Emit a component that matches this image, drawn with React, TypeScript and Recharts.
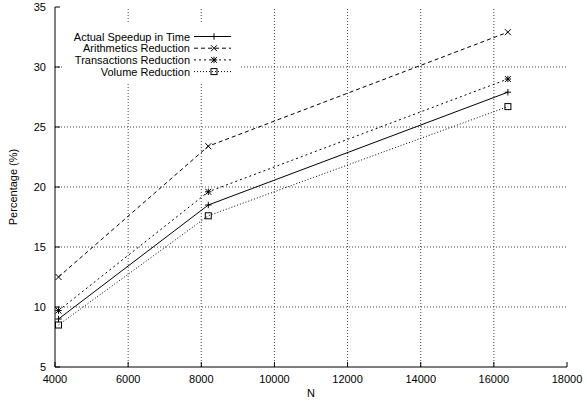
import { LineChart, Line, XAxis, YAxis, ReferenceLine } from "recharts";

// problem size N (x) and percentage for each series
const N = [4096, 8192, 16384];
const actualSpeedup = [9.0, 18.5, 27.9];
const arithmeticsReduction = [12.5, 23.4, 32.9];
const transactionsReduction = [9.7, 19.6, 29.0];
const volumeReduction = [8.5, 17.6, 26.7];

const xTicks = [4000, 6000, 8000, 10000, 12000, 14000, 16000, 18000];
const yTicks = [5, 10, 15, 20, 25, 30, 35];

const data = N.map((n, i) => ({
  n,
  actual: actualSpeedup[i],
  arith: arithmeticsReduction[i],
  trans: transactionsReduction[i],
  volume: volumeReduction[i],
}));

const FONT = '"Liberation Sans", Arial, Helvetica, sans-serif';
const INK = "#000";
const GRID = "#444";

type Kind = "plus" | "cross" | "star" | "square";

const Marker = ({ kind, cx, cy }: { kind: Kind; cx: number; cy: number }) => {
  const p = 3.2;
  const c = 3;
  const s = 3;
  const plus = (
    <>
      <line x1={cx - p} y1={cy} x2={cx + p} y2={cy} />
      <line x1={cx} y1={cy - p} x2={cx} y2={cy + p} />
    </>
  );
  const cross = (
    <>
      <line x1={cx - c} y1={cy - c} x2={cx + c} y2={cy + c} />
      <line x1={cx - c} y1={cy + c} x2={cx + c} y2={cy - c} />
    </>
  );
  return (
    <g stroke={INK} strokeWidth={1} fill="none">
      {kind === "plus" && plus}
      {kind === "cross" && cross}
      {kind === "star" && (
        <>
          {plus}
          {cross}
        </>
      )}
      {kind === "square" && <rect x={cx - s} y={cy - s} width={2 * s} height={2 * s} />}
    </g>
  );
};

const dotFor = (kind: Kind) => (props: any) =>
  <Marker key={`${kind}-${props.index}`} kind={kind} cx={props.cx} cy={props.cy} />;

const series = [
  { key: "actual", name: "Actual Speedup in Time", dash: undefined, kind: "plus" as Kind },
  { key: "arith", name: "Arithmetics Reduction", dash: "4 3", kind: "cross" as Kind },
  { key: "trans", name: "Transactions Reduction", dash: "2 3", kind: "star" as Kind },
  { key: "volume", name: "Volume Reduction", dash: "1 2", kind: "square" as Kind },
];

const tickStyle = { fill: INK, fontSize: 11, fontFamily: FONT };

export default function App() {
  return (
    <div style={{ position: "absolute", left: 0, top: 0, width: 587, height: 406, background: "#fff" }}>
      <LineChart width={587} height={406} data={data} margin={{ top: 7, right: 20, bottom: 0, left: 0 }}>
        {/* dotted grid */}
        {xTicks.slice(1, -1).map((t) => (
          <ReferenceLine key={`gx-${t}`} xAxisId="bottom" yAxisId="left" x={t} stroke={GRID} strokeDasharray="1 2" />
        ))}
        {yTicks.slice(1, -1).map((t) => (
          <ReferenceLine key={`gy-${t}`} xAxisId="bottom" yAxisId="left" y={t} stroke={GRID} strokeDasharray="1 2" />
        ))}
        <XAxis
          xAxisId="bottom"
          dataKey="n"
          type="number"
          domain={[4000, 18000]}
          ticks={xTicks}
          height={39}
          tickSize={-5}
          tickMargin={13}
          tick={tickStyle}
          axisLine={{ stroke: INK }}
          tickLine={{ stroke: INK }}
          label={(props: any) => {
            const vb = props.viewBox;
            return (
              <text x={vb.x + vb.width / 2} y={397} textAnchor="middle" fontSize={11} fontFamily={FONT} fill={INK}>
                N
              </text>
            );
          }}
        />
        <XAxis
          xAxisId="top"
          orientation="top"
          type="number"
          domain={[4000, 18000]}
          ticks={xTicks}
          height={0}
          tickSize={-5}
          tick={false}
          axisLine={{ stroke: INK }}
          tickLine={{ stroke: INK }}
        />
        <YAxis
          yAxisId="left"
          type="number"
          domain={[5, 35]}
          ticks={yTicks}
          width={55}
          tickSize={-5}
          tickMargin={14}
          tick={tickStyle}
          axisLine={{ stroke: INK }}
          tickLine={{ stroke: INK }}
          label={(props: any) => {
            const vb = props.viewBox;
            const cy = vb.y + vb.height / 2;
            return (
              <text
                x={13}
                y={cy}
                transform={`rotate(-90 13 ${cy})`}
                textAnchor="middle"
                dominantBaseline="central"
                fontSize={11}
                fontFamily={FONT}
                fill={INK}
              >
                Percentage (%)
              </text>
            );
          }}
        />
        <YAxis
          yAxisId="right"
          orientation="right"
          type="number"
          domain={[5, 35]}
          ticks={yTicks}
          width={0}
          tickSize={-5}
          tick={false}
          axisLine={{ stroke: INK }}
          tickLine={{ stroke: INK }}
        />
        {series.map((s) => (
          <Line
            key={s.key}
            xAxisId="bottom"
            yAxisId="left"
            dataKey={s.key}
            name={s.name}
            type="linear"
            stroke={INK}
            strokeWidth={1}
            strokeDasharray={s.dash}
            dot={dotFor(s.kind)}
            activeDot={false}
            isAnimationActive={false}
          />
        ))}
      </LineChart>
      <svg width={587} height={406} style={{ position: "absolute", left: 0, top: 0, pointerEvents: "none" }}>
        {/* legend box is opaque, the grid does not show through it */}
        <rect x={63} y={24} width={177} height={58} fill="#fff" />
        {series.map((s, i) => {
          const y = 36.5 + i * 11.7;
          return (
            <g key={s.key}>
              <text x={190} y={y} textAnchor="end" dominantBaseline="central" fontSize={11} fontFamily={FONT} fill={INK}>
                {s.name}
              </text>
              <line x1={194} y1={y} x2={231} y2={y} stroke={INK} strokeWidth={1} strokeDasharray={s.dash} />
              <Marker kind={s.kind} cx={214} cy={y} />
            </g>
          );
        })}
      </svg>
    </div>
  );
}
